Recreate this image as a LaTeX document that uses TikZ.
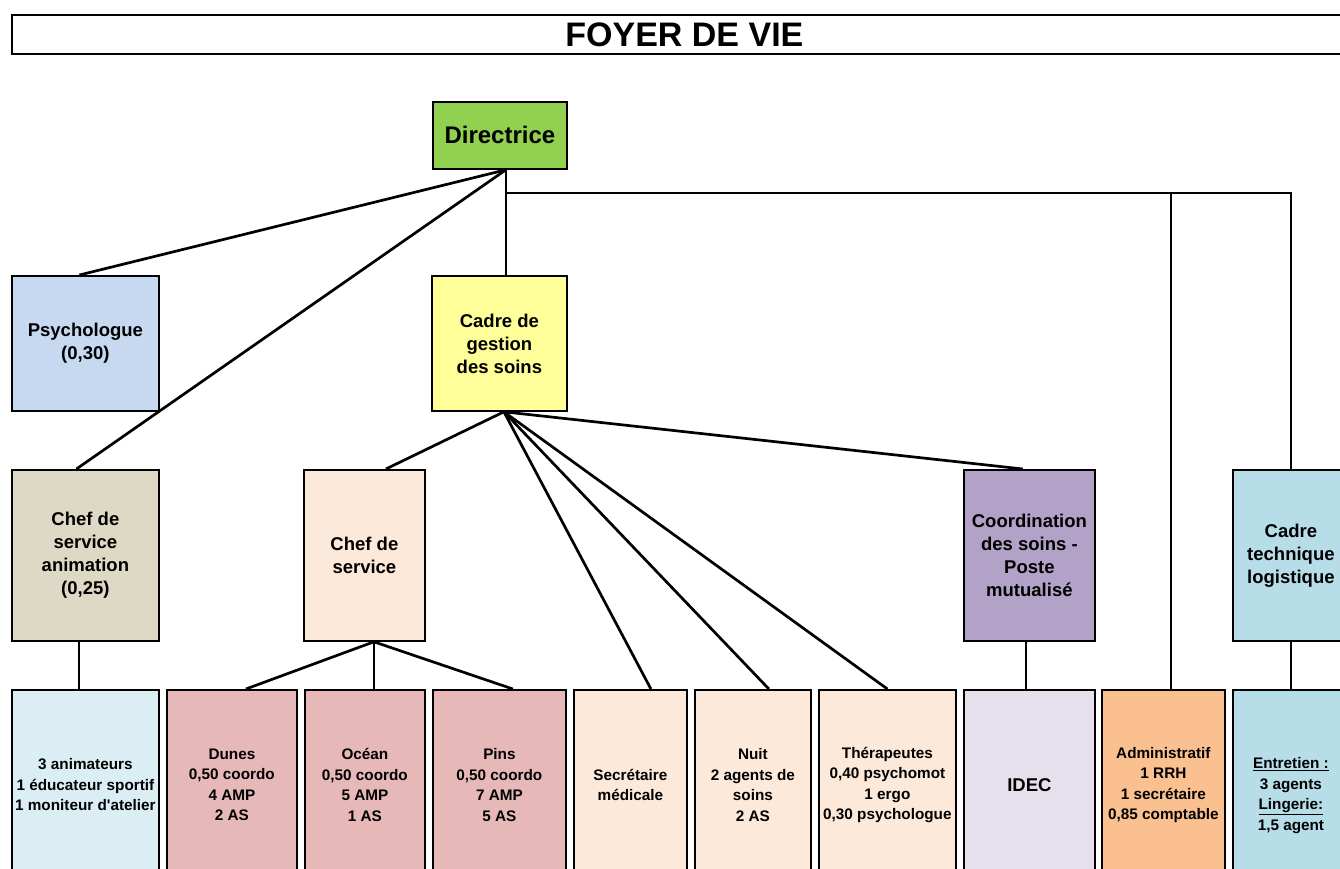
\documentclass[tikz,border=0pt]{standalone}
\usepackage{fontspec}
\setmainfont{Liberation Sans}
\usetikzlibrary{calc}
\definecolor{cdir}{HTML}{92D050}
\definecolor{cpsy}{HTML}{C6D9F1}
\definecolor{ccgs}{HTML}{FFFF99}
\definecolor{canim}{HTML}{DDD9C4}
\definecolor{cpeach}{HTML}{FDE9D9}
\definecolor{ccoord}{HTML}{B2A2C7}
\definecolor{ctech}{HTML}{B7DDE8}
\definecolor{canimb}{HTML}{DBEEF4}
\definecolor{cunit}{HTML}{E6B9B8}
\definecolor{cidec}{HTML}{E5E0EC}
\definecolor{cadm}{HTML}{FAC090}
\tikzset{
  box/.style={draw=black, line width=1.8pt, anchor=north west, inner sep=0pt, align=center, font=\bfseries\fontsize{18.5}{23}\selectfont},
  lowbox/.style={box, minimum height=190pt, font=\bfseries\fontsize{15.3}{20.5}\selectfont},
  conn/.style={draw=black, line width=2.7pt},
}
\begin{document}
\begin{tikzpicture}[x=1pt,y=-1pt]
\useasboundingbox (0,0) rectangle (1340,869);
\clip (0,0) rectangle (1340,869);
% title
\node[box, minimum width=1345pt, minimum height=39pt, font=\bfseries\fontsize{34}{40}\selectfont] (title) at (11,14) {FOYER DE VIE};
% top
\node[box, fill=cdir, minimum width=134pt, minimum height=67pt, font=\bfseries\fontsize{24}{28}\selectfont] (dir) at (432,101) {Directrice};
\node[box, fill=cpsy, minimum width=147pt, minimum height=135pt] (psy) at (11,275) {Psychologue\\(0,30)};
\node[box, fill=ccgs, minimum width=135pt, minimum height=135pt] (cgs) at (431,275) {Cadre de\\gestion\\des soins};
% middle row
\node[box, fill=canim, minimum width=147pt, minimum height=171pt] (anim) at (11,469) {Chef de\\service\\animation\\(0,25)};
\node[box, fill=cpeach, minimum width=121pt, minimum height=171pt] (chef) at (303,469) {Chef de\\service};
\node[box, fill=ccoord, minimum width=131pt, minimum height=171pt] (coord) at (963,469) {Coordination\\des soins -\\Poste\\mutualisé};
\node[box, fill=ctech, minimum width=116pt, minimum height=171pt] (tech) at (1232,469) {Cadre\\technique\\logistique};
% bottom row
\node[lowbox, fill=canimb, minimum width=147pt] (anb) at (11,689) {3 animateurs\\1 éducateur sportif\\1 moniteur d\textquotesingle atelier};
\node[lowbox, fill=cunit, minimum width=130pt] (dunes) at (166,689) {Dunes\\0,50 coordo\\4 AMP\\2 AS};
\node[lowbox, fill=cunit, minimum width=120pt] (ocean) at (304,689) {Océan\\0,50 coordo\\5 AMP\\1 AS};
\node[lowbox, fill=cunit, minimum width=133pt] (pins) at (432,689) {Pins\\0,50 coordo\\7 AMP\\5 AS};
\node[lowbox, fill=cpeach, minimum width=113pt] (secr) at (573,689) {Secrétaire\\médicale};
\node[lowbox, fill=cpeach, minimum width=116pt] (nuit) at (694,689) {Nuit\\2 agents de\\soins\\2 AS};
\node[lowbox, fill=cpeach, minimum width=137pt] (ther) at (818,689) {Thérapeutes\\0,40 psychomot\\1 ergo\\0,30 psychologue};
\node[lowbox, fill=cidec, minimum width=131pt, font=\bfseries\fontsize{18.5}{23}\selectfont] (idec) at (963,689) {IDEC};
\node[lowbox, fill=cadm, minimum width=123pt] (adm) at (1101,689) {Administratif\\1 RRH\\1 secrétaire\\0,85 comptable};
\node[lowbox, fill=ctech, minimum width=116pt] (entr) at (1232,689) {\rule{0pt}{32pt}\underline{Entretien :}\\3 agents\\\underline{Lingerie:}\\1,5 agent};
% junction coordinates
\coordinate (dirb) at ([xshift=6pt]dir.south);
\coordinate (j1) at (dirb |- 0,193);
\coordinate (j2) at (tech.north |- 0,193);
\coordinate (j3) at ([xshift=7.5pt]adm.north |- 0,193);
\coordinate (cgsb) at ([xshift=4.5pt]cgs.south);
\coordinate (chefb) at ([xshift=9.5pt]chef.south);
% connectors
\draw[conn] (dirb) -- ([xshift=-6pt]psy.north);
\draw[conn] (dirb) -- ([xshift=-9pt]anim.north);
\draw[conn] (dirb) -- (dirb |- cgs.north);
\draw[conn] (j1) -- (j2) -- (tech.north);
\draw[conn] (j3) -- ([xshift=7.5pt]adm.north);
\draw[conn] (cgsb) -- ([xshift=21.5pt]chef.north);
\draw[conn] (cgsb) -- ([xshift=20.5pt]secr.north);
\draw[conn] (cgsb) -- ([xshift=16pt]nuit.north);
\draw[conn] (cgsb) -- (ther.north);
\draw[conn] (cgsb) -- ([xshift=-6.5pt]coord.north);
\draw[conn] (chefb) -- ([xshift=14pt]dunes.north);
\draw[conn] (chefb) -- ([xshift=9pt]ocean.north);
\draw[conn] (chefb) -- ([xshift=13.5pt]pins.north);
\draw[conn] ([xshift=-6.5pt]anim.south) -- ([xshift=-6.5pt]anb.north);
\draw[conn] ([xshift=-3.5pt]coord.south) -- ([xshift=-3.5pt]idec.north);
\draw[conn] (tech.south) -- (entr.north);
\end{tikzpicture}
\end{document}
